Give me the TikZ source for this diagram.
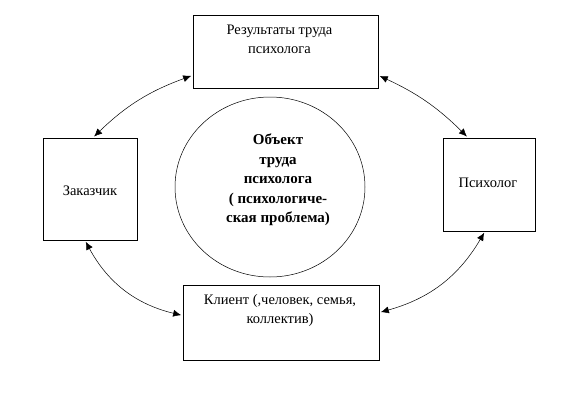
\documentclass[tikz,border=0pt]{standalone}
\usepackage{fontspec}
\setmainfont{Liberation Serif}
\usetikzlibrary{positioning,arrows.meta,shapes.geometric}
\tikzset{
  box/.style={draw, line width=0.8pt, inner sep=0pt},
  txt/.style={font=\fontsize{14.5}{19}\selectfont, align=center, inner sep=0pt},
  objtxt/.style={font=\bfseries\fontsize{15}{19.5}\selectfont, align=center, inner sep=0pt},
  link/.style={arrows={Latex[length=8pt,width=7pt]-Latex[length=8pt,width=7pt]}, line width=0.5pt, shorten >=1.5pt, shorten <=1.5pt}
}
\begin{document}
\begin{tikzpicture}[x=1pt,y=-1pt]
\useasboundingbox (0,0) rectangle (582,407);
% boxes
\node[box, minimum width=185pt, minimum height=73pt] (res) at (285.5,51.5) {};
\node[box, minimum width=94pt, minimum height=102pt] (zak) at (90,189) {};
\node[box, minimum width=92pt, minimum height=93pt] (psy) at (489,184.5) {};
\node[box, minimum width=196pt, minimum height=75pt] (cli) at (281,322.5) {};
\node[draw, ellipse, line width=0.5pt, minimum width=190pt, minimum height=180pt] (obj) at (270,187) {};
% texts
\node[txt, below=10pt of res.north, xshift=-6pt] (restxt) {Результаты труда\\психолога};
\node[txt] (zaktxt) at (90,191) {Заказчик};
\node[txt] (psytxt) at (488,183) {Психолог};
\node[txt, below=10pt of cli.north, xshift=-1pt] (clitxt) {Клиент (,человек, семья,\\коллектив)};
\node[objtxt] (objtxt) at (278,180) {Объект\\труда\\психолога\\( психологиче-\\ская проблема)};
% links
\draw[link] ([yshift=13pt]res.south west) to[bend right=12] ([xshift=3pt]zak.north);
\draw[link] ([yshift=13pt]res.south east) to[bend left=10] ([xshift=-21pt]psy.north);
\draw[link] ([xshift=-4pt]psy.south) to[bend left=22] ([yshift=10pt]cli.east);
\draw[link] ([xshift=-5pt]zak.south) to[bend right=24] ([yshift=7pt]cli.west);
\end{tikzpicture}
\end{document}
